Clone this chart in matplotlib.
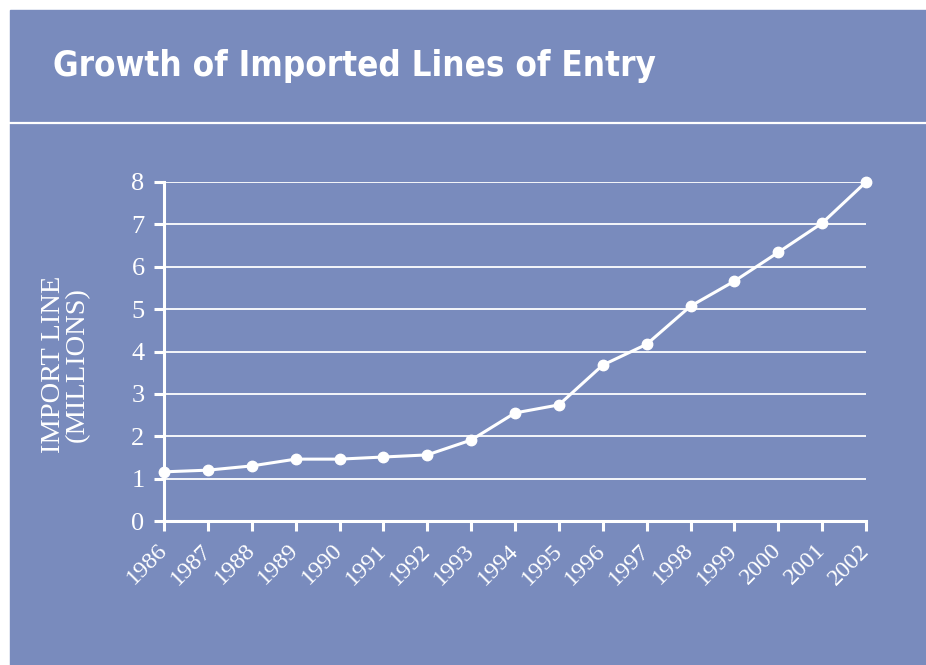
import matplotlib
matplotlib.use('Agg')
import matplotlib.pyplot as plt
from matplotlib.patches import Rectangle
from matplotlib.lines import Line2D

# data (millions of import lines)
years = [1986, 1987, 1988, 1989, 1990, 1991, 1992, 1993, 1994,
         1995, 1996, 1997, 1998, 1999, 2000, 2001, 2002]
import_lines = [1.16, 1.20, 1.30, 1.46, 1.46, 1.51, 1.56, 1.91, 2.55,
                2.74, 3.68, 4.17, 5.07, 5.66, 6.34, 7.03, 8.0]
y_ticks = [0, 1, 2, 3, 4, 5, 6, 7, 8]

BLUE = '#798bbd'
W, H = 926, 665

fig = plt.figure(figsize=(W / 100, H / 100), dpi=100)
fig.patch.set_facecolor('white')

# blue panel and the white rule under the title
fig.patches.append(Rectangle((10 / W, 0), 1 - 10 / W, 1 - 10 / H,
                             transform=fig.transFigure, color=BLUE, zorder=-5))
fig.lines.append(Line2D([10 / W, 1], [1 - 122.5 / H] * 2, transform=fig.transFigure,
                        color='white', lw=1.6, zorder=-4))

fig.text(53 / W, 1 - 66 / H, 'Growth of Imported Lines of Entry', color='white',
         fontsize=25, fontweight='bold', fontstretch='condensed',
         va='center', ha='left',
         family=['Liberation Sans Narrow', 'DejaVu Sans'])

ax = fig.add_axes([164 / W, 1 - 521 / H, (866 - 164) / W, (521 - 182) / H])
ax.set_facecolor('none')
ax.plot(years, import_lines, color='white', lw=2.2, marker='o', ms=7.5,
        clip_on=False, zorder=3)

ax.set_xlim(years[0], years[-1])
ax.set_ylim(0, 8)
ax.set_xticks(years)
ax.set_yticks(y_ticks)
ax.yaxis.grid(True, color='white', lw=1.3)
ax.set_axisbelow(True)

for s in ['top', 'right']:
    ax.spines[s].set_visible(False)
for s in ['left', 'bottom']:
    ax.spines[s].set_color('white')
    ax.spines[s].set_linewidth(2.2)

serif = ['Liberation Serif', 'DejaVu Serif']
ax.tick_params(colors='white', direction='out', length=7, width=2.2)
ax.set_yticklabels([str(v) for v in y_ticks], fontsize=19, family=serif)
ax.set_xticklabels([str(y) for y in years], fontsize=17.5, family=serif,
                   rotation=45, ha='right', va='center', rotation_mode='anchor')
ax.tick_params(axis='x', pad=12)
ax.tick_params(axis='y', pad=7)

ax.set_ylabel('IMPORT LINE\n(MILLIONS)', color='white', fontsize=20.5,
              family=serif, linespacing=0.95)
ax.yaxis.set_label_coords(-0.105, 0.462)

fig.savefig('out.png', dpi=100, facecolor=fig.get_facecolor())
